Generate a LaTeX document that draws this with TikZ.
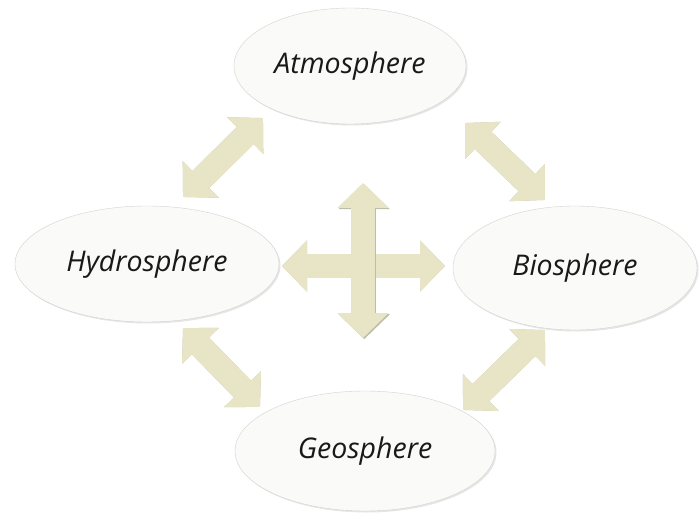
\documentclass[tikz,border=0pt]{standalone}
\usepackage{fontspec}
\setmainfont{Open Sans}
\usepackage{xcolor}
\usepackage{tikz}
\usetikzlibrary{shapes.geometric,arrows.meta,shadows}
\definecolor{spherefill}{RGB}{250, 250, 248}
\definecolor{sphereedge}{RGB}{210, 210, 205}
\definecolor{flowbeige}{RGB}{232, 229, 198}
\definecolor{labelink}{RGB}{25, 25, 25}

\begin{document}
\begin{tikzpicture}[x=1pt, y=1pt,
  sphere/.style={ellipse, draw=sphereedge, fill=spherefill, thin,
    drop shadow={shadow xshift=1.5pt, shadow yshift=-1.5pt, opacity=0.2},
    font=\fontsize{28.5}{34}\selectfont\itshape, text=labelink, inner sep=0pt},
  flow/.style={line width=24pt, draw=flowbeige,
    {Triangle[width=50pt,length=25pt]}-{Triangle[width=50pt,length=25pt]}},
  flowshadow/.style={flow, draw=flowbeige!60!gray}]
\useasboundingbox (0,0) rectangle (699,515);
% spheres
\node[sphere, minimum width=232pt, minimum height=116pt] (atm) at (350,449) {Atmosphere};
\node[sphere, minimum width=264pt, minimum height=116pt] (hyd) at (147,251) {Hydrosphere};
\node[sphere, minimum width=244pt, minimum height=124pt] (bio) at (575,247) {Biosphere};
\node[sphere, minimum width=260pt, minimum height=120pt] (geo) at (365,64) {Geosphere};
% arrow ends
\coordinate (ul1) at (183,318); \coordinate (ul2) at (263,397);
\coordinate (ur1) at (465,392); \coordinate (ur2) at (545,315);
\coordinate (ll1) at (183,187); \coordinate (ll2) at (260,108);
\coordinate (lr1) at (545,185); \coordinate (lr2) at (463,105);
\coordinate (hl) at (282,249); \coordinate (hr) at (445,249);
\coordinate (vt) at (363,332); \coordinate (vb) at (363,177);
% shadows
\begin{scope}[shift={(1.2,-1.2)}]
\draw[flowshadow] (ul1) -- (ul2);
\draw[flowshadow] (ur1) -- (ur2);
\draw[flowshadow] (ll1) -- (ll2);
\draw[flowshadow] (lr1) -- (lr2);
\draw[flowshadow] (hl) -- (hr);
\end{scope}
% arrows
\draw[flow] (ul1) -- (ul2);
\draw[flow] (ur1) -- (ur2);
\draw[flow] (ll1) -- (ll2);
\draw[flow] (lr1) -- (lr2);
\draw[flow] (hl) -- (hr);
\draw[flowshadow, transform canvas={shift={(1.2,-1.2)}}] (vt) -- (vb);
\draw[flow] (vt) -- (vb);
\end{tikzpicture}
\end{document}
